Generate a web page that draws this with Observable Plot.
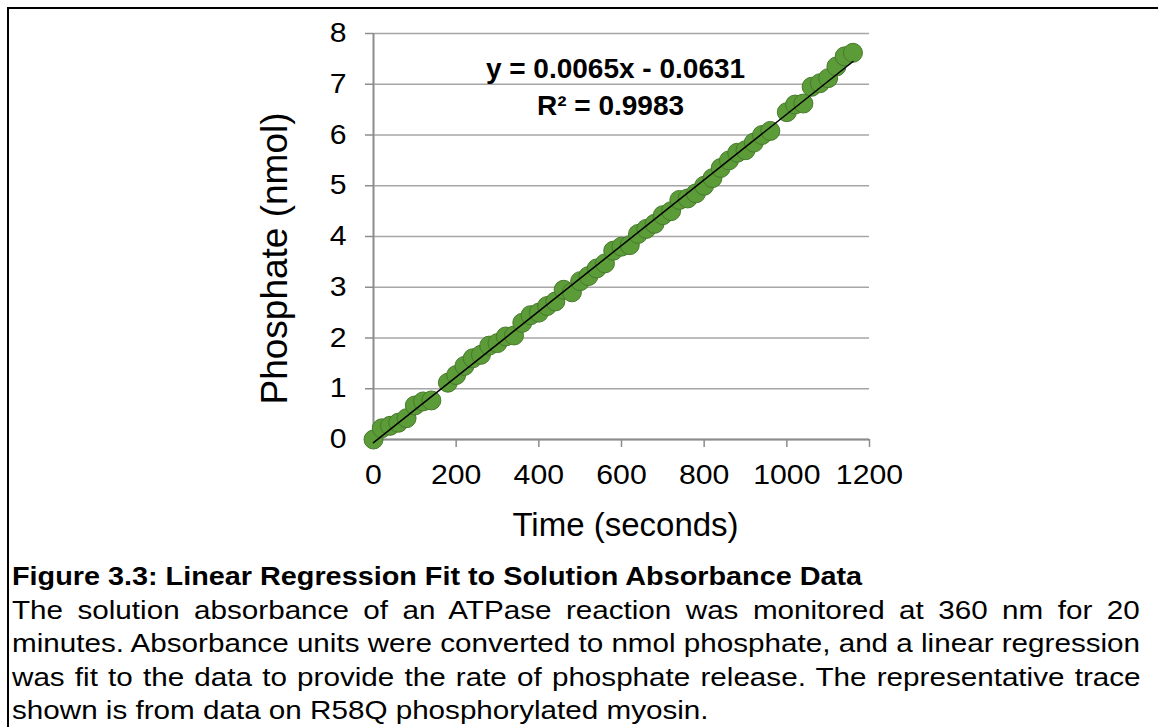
<!DOCTYPE html>
<html>
<head>
<meta charset="utf-8">
<script src="https://cdn.jsdelivr.net/npm/d3@7"></script>
<script src="https://cdn.jsdelivr.net/npm/@observablehq/plot@0.6"></script>
<style>
  html, body { margin: 0; padding: 0; background: #fff; overflow: hidden; width: 1158px; height: 727px; }
  #frame { position: absolute; left: 7px; top: 7px; width: 1400px; height: 1000px; border-top: 2px solid #000; border-left: 2px solid #000; box-sizing: border-box; }
  #chart { position: absolute; left: 0; top: 0; }
  #caption { position: absolute; left: 12px; top: 560px; width: 1128px;
             font-family: "Liberation Sans", Arial, sans-serif; font-size: 26px; line-height: 33.5px; color: #000; }
  #caption > div { white-space: nowrap; transform-origin: 0 0; height: 33.5px; }
  #caption .t { font-weight: bold; font-size: 25px; }
  #caption span { display: inline-block; }
</style>
</head>
<body>
<div id="frame"></div>
<div id="chart"></div>
<div id="caption"></div>
<script>
// Data (time in seconds, phosphate in nmol)
const times = [0, 20, 40, 60, 80, 100, 120, 140, 180, 200, 220, 240, 260, 280, 300, 320, 340, 360, 380, 400,
  420, 440, 460, 480, 500, 520, 540, 560, 580, 600, 620, 640, 660, 680, 700, 720, 740, 760, 780, 800,
  820, 840, 860, 880, 900, 920, 940, 960, 1000, 1020, 1040, 1060, 1080, 1100, 1120, 1140, 1160];
const phosphate = [0.00, 0.22, 0.27, 0.33, 0.42, 0.67, 0.75, 0.77, 1.12, 1.27, 1.45, 1.60, 1.67, 1.85, 1.90, 2.03, 2.05, 2.30, 2.45, 2.50,
  2.63, 2.72, 2.95, 2.90, 3.12, 3.22, 3.37, 3.47, 3.72, 3.80, 3.83, 4.05, 4.15, 4.25, 4.42, 4.50, 4.72, 4.75, 4.85, 5.00,
  5.15, 5.35, 5.50, 5.65, 5.70, 5.85, 6.00, 6.08, 6.45, 6.60, 6.62, 6.95, 7.02, 7.12, 7.35, 7.55, 7.62];
const xTicks = [0, 200, 400, 600, 800, 1000, 1200];
const yTicks = [0, 1, 2, 3, 4, 5, 6, 7, 8];
const xTitle = "Time (seconds)";
const yTitle = "Phosphate (nmol)";
const equationLines = ["y = 0.0065x - 0.0631", "R² = 0.9983"];
const captionTitle = "Figure 3.3: Linear Regression Fit to Solution Absorbance Data";
const captionLines = [
  "The solution absorbance of an ATPase reaction was monitored at 360 nm for 20",
  "minutes. Absorbance units were converted to nmol phosphate, and a linear regression",
  "was fit to the data to provide the rate of phosphate release. The representative trace",
  "shown is from data on R58Q phosphorylated myosin."
];

const data = times.map((t, i) => ({t, p: phosphate[i]}));
const gray = "#8c8c8c";
const font = "'Liberation Sans', Arial, sans-serif";
const fmt = d3.format("d");

const chart = Plot.plot({
  width: 1158,
  height: 549,
  marginLeft: 373,
  marginRight: 289,
  marginTop: 33,
  marginBottom: 110,
  style: {fontFamily: font, background: "transparent", color: "#000"},
  x: {domain: [0, 1200], label: null},
  y: {domain: [0, 8], label: null},
  marks: [
    Plot.gridY(yTicks, {stroke: "#a6a6a6", strokeOpacity: 1, strokeWidth: 1.5}),
    Plot.axisY(yTicks, {tickSize: 8, tickPadding: 19, fontSize: 27, stroke: gray, strokeWidth: 1.5, label: null, fill: "#000", tickFormat: fmt}),
    Plot.axisX(xTicks, {tickSize: 8, tickPadding: 17, fontSize: 27, stroke: gray, strokeWidth: 1.5, label: null, fill: "#000", tickFormat: fmt}),
    Plot.ruleX([0], {stroke: gray, strokeWidth: 2}),
    Plot.ruleY([0], {stroke: gray, strokeWidth: 2}),
    Plot.dot(data, {x: "t", y: "p", r: 9.5, fill: "#5b9b38", stroke: "#477a2c", strokeWidth: 1, fillOpacity: 1}),
    Plot.linearRegressionY(data, {x: "t", y: "p", stroke: "#000", strokeWidth: 1.5, ci: 0}),
    Plot.text([equationLines[0]], {ariaLabel: "equation", frameAnchor: "top", dx: -6, dy: 25, fontSize: 28, fontWeight: "bold", fill: "#000"}),
    Plot.text([equationLines[1]], {ariaLabel: "equation", frameAnchor: "top", dx: -11, dy: 62, fontSize: 28, fontWeight: "bold", fill: "#000"}),
    Plot.text([xTitle], {ariaLabel: "x-title", frameAnchor: "bottom", dx: 4, dy: 96, fontSize: 33, fill: "#000"}),
    Plot.text([yTitle], {ariaLabel: "y-title", frameAnchor: "left", textAnchor: "middle", dx: -98, dy: 22, rotate: -90, fontSize: 37, fill: "#000"})
  ]
});
document.getElementById("chart").appendChild(chart);

// The reference figure is horizontally stretched; widen upright texts to match.
function stretch(selector, s) {
  chart.querySelectorAll(selector).forEach(el => {
    const t = el.getAttribute("transform");
    if (t) el.setAttribute("transform", t + ` scale(${s},1)`);
  });
}
stretch("g[aria-label='x-axis tick label'] text", 1.12);
stretch("g[aria-label='y-axis tick label'] text", 1.12);
stretch("g[aria-label='equation'] text", 1.17);
stretch("g[aria-label='x-title'] text", 1.07);

// Caption
const cap = document.getElementById("caption");
const full = 1128;
function addLine(text, cls) {
  const div = document.createElement("div");
  if (cls) div.className = cls;
  const span = document.createElement("span");
  span.textContent = text;
  div.appendChild(span);
  cap.appendChild(div);
  return {div, span};
}
const title = addLine(captionTitle, "t");
title.div.style.transform = `scaleX(${850 / title.span.offsetWidth})`;

const body = captionLines.map(l => addLine(l));
// Line 2 fills the full width with natural spacing in the reference.
const natural = body.map(({span}) => span.offsetWidth);
const sBody = full / natural[1];
body.forEach(({div, span}, i) => {
  if (i < 3) {
    const gaps = span.textContent.split(" ").length - 1;
    const extra = Math.max(0, (full / sBody - natural[i]) / gaps);
    span.style.wordSpacing = extra + "px";
  }
  div.style.transform = `scaleX(${sBody})`;
});
</script>
</body>
</html>
